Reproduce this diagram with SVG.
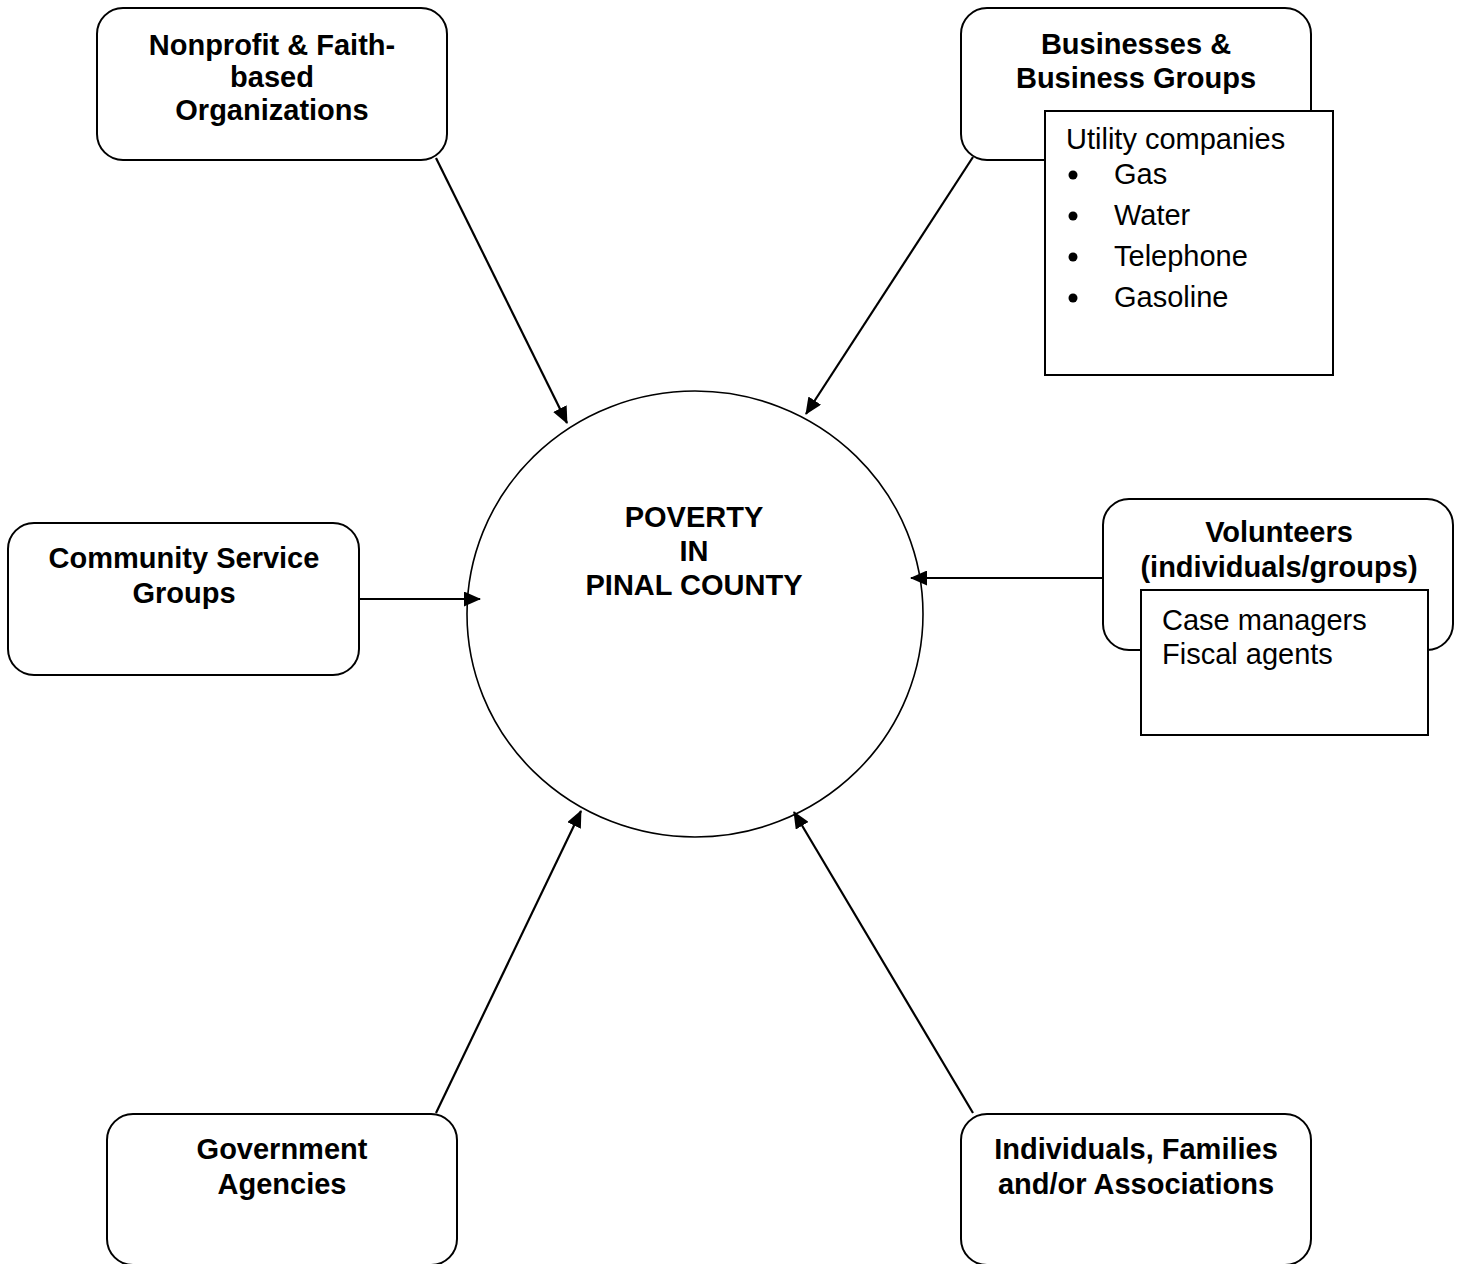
<svg xmlns="http://www.w3.org/2000/svg" width="1460" height="1264" viewBox="0 0 1460 1264">
  <style>
    .node { fill: #ffffff; stroke: #000000; stroke-width: 2; }
    .sub { fill: #ffffff; stroke: #000000; stroke-width: 2; }
    .hub { fill: #ffffff; stroke: #000000; stroke-width: 1.6; }
    .title { font-family: "Liberation Sans", Arial, sans-serif; font-size: 29px; font-weight: bold; fill: #000000; text-anchor: middle; }
    .item { font-family: "Liberation Sans", Arial, sans-serif; font-size: 29px; fill: #000000; }
    .link { fill: none; stroke: #000000; stroke-width: 2.2; marker-end: url(#head); }
  </style>
  <defs>
    <marker id="head" markerUnits="userSpaceOnUse" markerWidth="17" markerHeight="15" refX="16" refY="7.5" orient="auto">
      <path d="M0,0 L17,7.5 L0,15 Z" fill="#000000"/>
    </marker>
  </defs>
  <rect width="1460" height="1264" fill="#ffffff"/>

  <!-- central hub -->
  <g id="poverty">
    <ellipse class="hub" cx="695" cy="614" rx="228" ry="223"/>
    <text class="title" x="694" y="527">POVERTY</text>
    <text class="title" x="694" y="561">IN</text>
    <text class="title" x="694" y="595">PINAL COUNTY</text>
  </g>

  <g id="nonprofit">
    <rect class="node" x="97" y="8" width="350" height="152" rx="26"/>
    <text class="title" x="272" y="55">Nonprofit &amp; Faith-</text>
    <text class="title" x="272" y="87">based</text>
    <text class="title" x="272" y="120">Organizations</text>
  </g>

  <g id="businesses">
    <rect class="node" x="961" y="8" width="350" height="152" rx="26"/>
    <text class="title" x="1136" y="54">Businesses &amp;</text>
    <text class="title" x="1136" y="88">Business Groups</text>
    <rect class="sub" x="1045" y="111" width="288" height="264"/>
    <text class="item" x="1066" y="149">Utility companies</text>
    <circle cx="1073" cy="175" r="4.5"/>
    <text class="item" x="1114" y="184">Gas</text>
    <circle cx="1073" cy="216" r="4.5"/>
    <text class="item" x="1114" y="225">Water</text>
    <circle cx="1073" cy="257" r="4.5"/>
    <text class="item" x="1114" y="266">Telephone</text>
    <circle cx="1073" cy="298" r="4.5"/>
    <text class="item" x="1114" y="307">Gasoline</text>
  </g>

  <g id="community">
    <rect class="node" x="8" y="523" width="351" height="152" rx="26"/>
    <text class="title" x="184" y="568">Community Service</text>
    <text class="title" x="184" y="603">Groups</text>
  </g>

  <g id="volunteers">
    <rect class="node" x="1103" y="499" width="350" height="151" rx="26"/>
    <text class="title" x="1279" y="542">Volunteers</text>
    <text class="title" x="1279" y="577">(individuals/groups)</text>
    <rect class="sub" x="1141" y="590" width="287" height="145"/>
    <text class="item" x="1162" y="630">Case managers</text>
    <text class="item" x="1162" y="664">Fiscal agents</text>
  </g>

  <g id="government">
    <rect class="node" x="107" y="1114" width="350" height="151" rx="26"/>
    <text class="title" x="282" y="1159">Government</text>
    <text class="title" x="282" y="1194">Agencies</text>
  </g>

  <g id="individuals">
    <rect class="node" x="961" y="1114" width="350" height="151" rx="26"/>
    <text class="title" x="1136" y="1159">Individuals, Families</text>
    <text class="title" x="1136" y="1194">and/or Associations</text>
  </g>

  <!-- connectors -->
  <g id="connectors">
    <line class="link" x1="436" y1="158" x2="567" y2="423"/>
    <line class="link" x1="973" y1="157" x2="806" y2="414"/>
    <line class="link" x1="359" y1="599" x2="480" y2="599"/>
    <line class="link" x1="1103" y1="578" x2="911" y2="578"/>
    <line class="link" x1="436" y1="1113" x2="581" y2="811"/>
    <line class="link" x1="973" y1="1113" x2="794" y2="812"/>
  </g>
</svg>
